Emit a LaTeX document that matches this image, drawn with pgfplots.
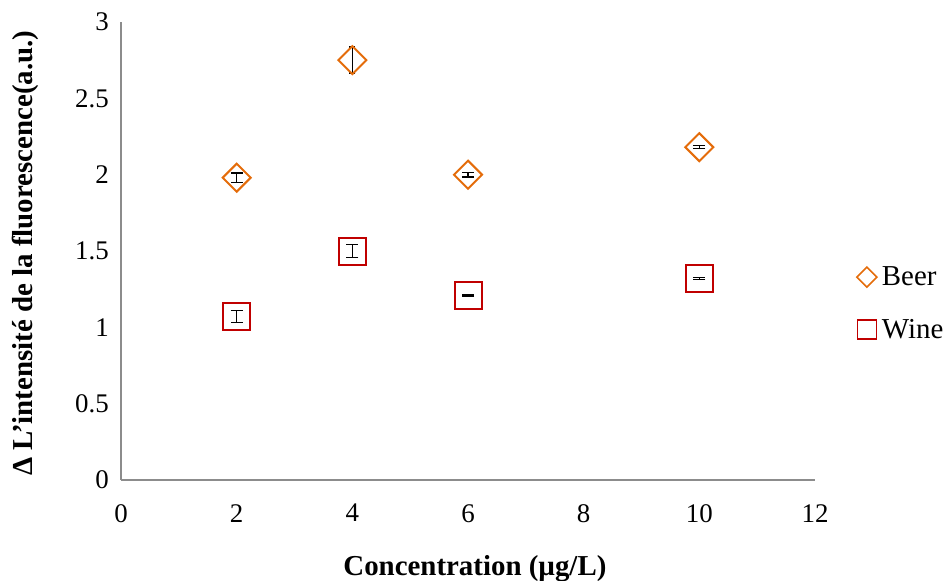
\documentclass[border=0pt]{standalone}
\usepackage{pgfplots}
\pgfplotsset{compat=1.18}
\usepackage{fontspec}
\setmainfont{Liberation Serif}
\definecolor{beer}{HTML}{E46C0A}
\definecolor{wine}{HTML}{C00000}
\begin{document}
\begin{tikzpicture}
\begin{axis}[
  scale only axis, width=694bp, height=458bp,
  xmin=0, xmax=12, ymin=0, ymax=3,
  xtick={0,2,4,6,8,10,12},
  ytick={0,0.5,1,1.5,2,2.5,3},
  yticklabels={0,0.5,1,1.5,2,2.5,3},
  axis lines*=left,
  axis line style={draw=gray!90, line width=1.3bp},
  major tick style={draw=none},
  /pgf/number format/assume math mode=true,
  tick label style={font=\fontsize{27}{32}\selectfont},
  xticklabel style={inner sep=0pt, anchor=north, yshift=-24bp},
  yticklabel style={inner sep=0pt, anchor=east, xshift=-12bp},
  xlabel={\textbf{Concentration (µg/L)}},
  ylabel={\textbf{Δ L'intensité de la fluorescence(a.u.)}},
  label style={font=\fontsize{29}{34}\selectfont},
  xlabel style={at={(axis description cs:0.51,0)}, anchor=base, yshift=-95bp, inner sep=0pt},
  ylabel style={at={(axis description cs:-0.128,0.495)}, anchor=base, inner sep=0pt},
  legend style={at={(axis description cs:1.060,0.47)}, anchor=north west, draw=none, fill=none,
    font=\fontsize{29}{34}\selectfont, row sep=28bp, column sep=3bp, inner sep=0pt},
  legend cell align=left,
  clip=false,
]
\addplot[forget plot, only marks, mark=square, mark size=9.9bp,
  mark options={draw=beer, line width=2bp, fill=none, rotate=45},
  error bars/.cd, y dir=both, y explicit,
  error bar style={black, line width=1.4bp},
  error mark options={rotate=90, mark size=6bp, black, line width=1.4bp}]
  table[x=x, y=y, y error=e] {
x y e
2 1.98 0.03
6 2.00 0.016
10 2.18 0.010
};
\addplot[forget plot, only marks, mark=square, mark size=9.9bp,
  mark options={draw=beer, line width=2bp, fill=none, rotate=45},
  error bars/.cd, y dir=both, y explicit,
  error bar style={black, line width=1.4bp},
  error mark options={rotate=90, mark size=3bp, black, line width=1.4bp}]
  table[x=x, y=y, y error=e] {
x y e
4 2.75 0.085
};
\addplot[forget plot, only marks, mark=square, mark size=13.5bp,
  mark options={draw=wine, line width=2bp, fill=none},
  error bars/.cd, y dir=both, y explicit,
  error bar style={black, line width=1.4bp},
  error mark options={rotate=90, mark size=6bp, black, line width=1.4bp}]
  table[x=x, y=y, y error=e] {
x y e
2 1.07 0.04
4 1.50 0.043
6 1.21 0.005
10 1.32 0.005
};
\addlegendimage{only marks, mark=square, mark size=7.1bp, mark options={draw=beer, line width=1.6bp, fill=none, rotate=45}}
\addlegendentry{Beer}
\addlegendimage{only marks, mark=square, mark size=9.5bp, mark options={draw=wine, line width=1.6bp, fill=none}}
\addlegendentry{Wine}
\coordinate (O) at (rel axis cs:0,0);
\coordinate (T) at (rel axis cs:1,1);
\end{axis}
\pgfresetboundingbox
\path[use as bounding box] ([xshift=-121bp,yshift=-101bp]O) rectangle ([xshift=136bp,yshift=22bp]T);
\end{tikzpicture}
\end{document}
